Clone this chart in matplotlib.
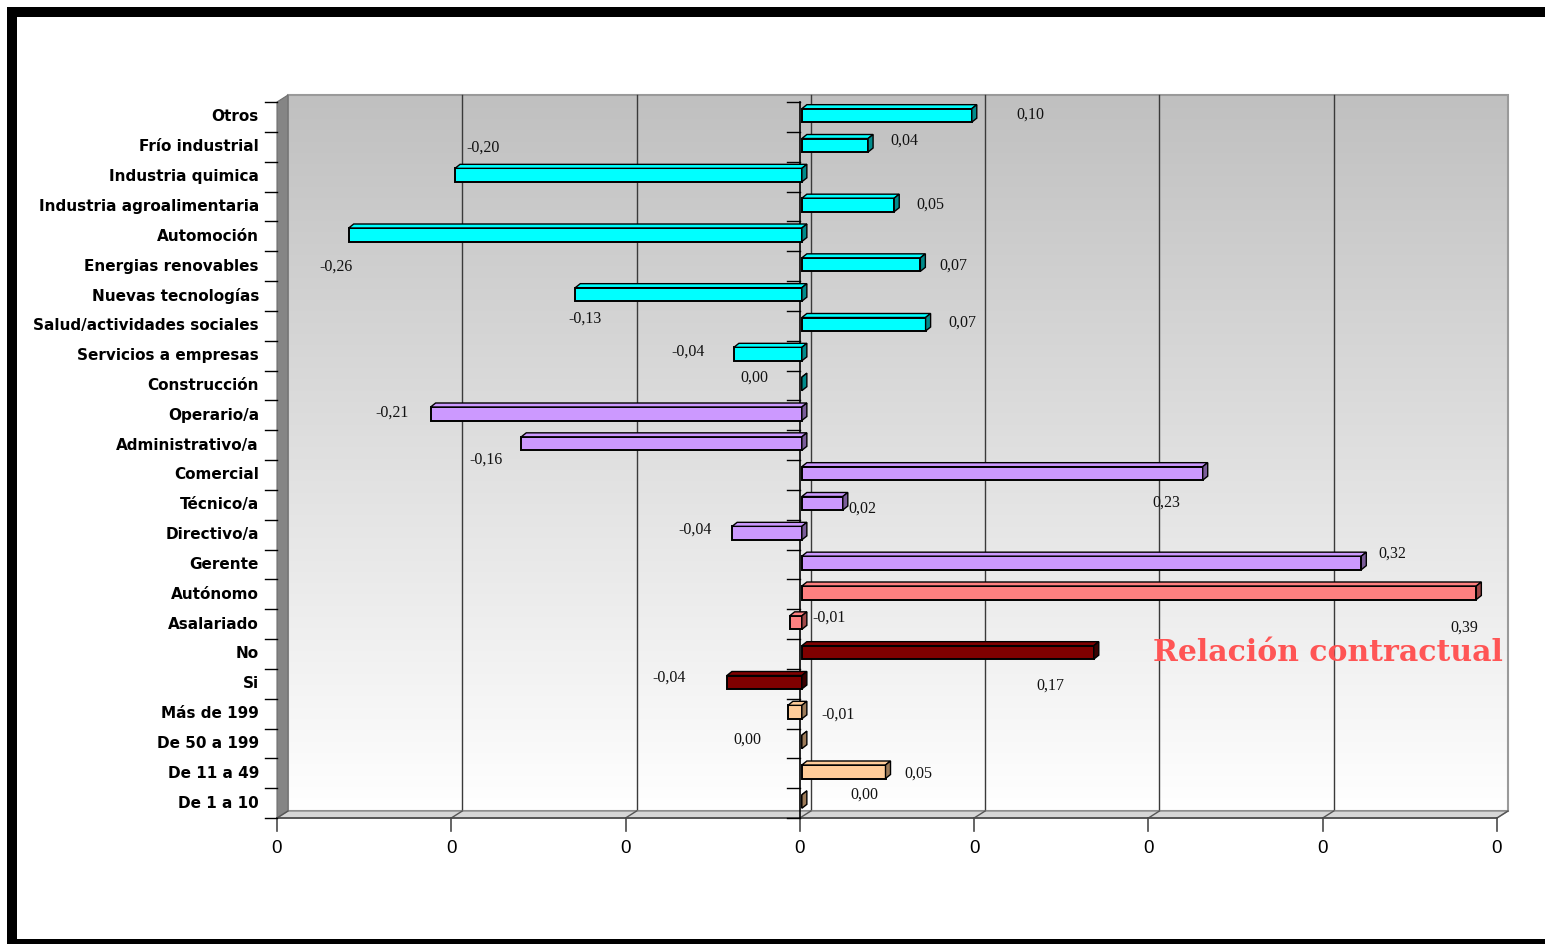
import numpy as np
import matplotlib
matplotlib.use("Agg")
import matplotlib.pyplot as plt
from matplotlib.patches import Polygon, Rectangle

# ---------------- data ----------------
categories = ["Otros", "Frío industrial", "Industria quimica", "Industria agroalimentaria",
              "Automoción", "Energias renovables", "Nuevas tecnologías",
              "Salud/actividades sociales", "Servicios a empresas", "Construcción",
              "Operario/a", "Administrativo/a", "Comercial", "Técnico/a", "Directivo/a",
              "Gerente", "Autónomo", "Asalariado", "No", "Si",
              "Más de 199", "De 50 a 199", "De 11 a 49", "De 1 a 10"]
values = [0.0975, 0.038, -0.199, 0.053, -0.26, 0.068, -0.13, 0.071, -0.039, 0.0,
          -0.213, -0.161, 0.230, 0.0235, -0.040, 0.321,
          0.387, -0.007, 0.1675, -0.043,
          -0.008, 0.0, 0.048, 0.0]
group_sizes = [10, 6, 2, 2, 4]
x_ticks = [-0.3, -0.2, -0.1, 0.0, 0.1, 0.2, 0.3, 0.4]
x_tick_labels = ["0"] * len(x_ticks)
title_text = "Relación contractual"

# ---------------- styles / layout ----------------
group_face = ["#00FFFF", "#CC99FF", "#FF8080", "#800000", "#FFCC99"]
group_side = ["#008B8B", "#7A5C99", "#A04848", "#3A0000", "#9C7A58"]
face_colors, side_colors = [], []
for n, fc, sc in zip(group_sizes, group_face, group_side):
    face_colors += [fc] * n
    side_colors += [sc] * n

# value-label positions (x in data units, dy in pixels relative to category centre)
label_x = [0.132, 0.060, -0.182, 0.075, -0.266, 0.088, -0.123, 0.093, -0.064, -0.026,
           -0.234, -0.180, 0.210, 0.036, -0.060, 0.340, 0.381, 0.017, 0.144, -0.075,
           0.022, -0.030, 0.068, 0.037]
label_dy = [-2, -6, -29, -1.5, 30, 0, 23, -3, -4, -8, -3, 15, 28, 4, -5, -11, 33, -6,
            32, -6, 1, -4, 0, -8]

W, H = 1545, 944
fig = plt.figure(figsize=(W / 100, H / 100), dpi=100)
fig.patch.set_facecolor("white")

# front frame of the plot in pixels
L, R, T, B = 277, 1497, 102, 818
ax = fig.add_axes([L / W, (H - B) / H, (R - L) / W, (B - T) / H])
ax.set_axis_off()
n = len(categories)
xmin, xmax = x_ticks[0], x_ticks[-1]
ylo, yhi = -0.5, n - 0.5
SX = (xmax - xmin) / (R - L)      # data per pixel (x)
SY = n / (B - T)                  # data per pixel (y, inverted axis)

dx, dy = 11 * SX, -7 * SY         # wall depth
bdx, bdy = 5 * SX, -4 * SY        # bar depth
bshx, bshy = 2 * SX, -1.5 * SY    # bar placement inside depth
bh = 13.5 * SY                    # bar thickness

# back wall gradient
grad = np.linspace(192, 255, 256)[:, None] / 255.0
grad = np.repeat(grad[:, :, None], 3, axis=2)
ax.imshow(grad, extent=(xmin + dx, xmax + dx, yhi + dy, ylo + dy), origin="upper",
          aspect="auto", zorder=0, clip_on=False, interpolation="bilinear")
ax.add_patch(Rectangle((xmin + dx, ylo + dy), xmax - xmin, yhi - ylo, fill=False,
                       edgecolor="#9A9A9A", lw=1.5, zorder=1, clip_on=False))
# gridlines on back wall
for t in x_ticks[1:-1]:
    ax.plot([t + dx, t + dx], [ylo + dy, yhi + dy], color="#3A3A3A", lw=1.0, zorder=1,
            clip_on=False)
# left wall
ax.add_patch(Polygon([(xmin, ylo), (xmin + dx, ylo + dy), (xmin + dx, yhi + dy), (xmin, yhi)],
                     closed=True, facecolor="#858585", edgecolor="#6E6E6E", lw=0.8,
                     zorder=1, clip_on=False))
# floor
ax.add_patch(Polygon([(xmin, yhi), (xmax, yhi), (xmax + dx, yhi + dy), (xmin + dx, yhi + dy)],
                     closed=True, facecolor="#D6D6D6", edgecolor="#8A8A8A", lw=1.0,
                     zorder=1, clip_on=False))
for t in x_ticks:
    ax.plot([t, t + dx], [yhi, yhi + dy], color="#555555", lw=1.0, zorder=1, clip_on=False)

# front x axis and ticks
ax.plot([xmin, xmax], [yhi, yhi], color="#4A4A4A", lw=1.2, zorder=2, clip_on=False)
for t, lab in zip(x_ticks, x_tick_labels):
    ax.plot([t, t], [yhi, yhi + 13 * SY], color="#4A4A4A", lw=1.2, zorder=2, clip_on=False)
    ax.text(t, yhi + 30 * SY, lab, ha="center", va="center", fontsize=13.5,
            family="Liberation Sans", color="black")

# category axis at zero, ticks on left edge
ax.plot([0, 0], [ylo, yhi], color="black", lw=1.2, zorder=2, clip_on=False)
for k in range(n + 1):
    yb = ylo + k
    ax.plot([-13 * SX, 0], [yb, yb], color="black", lw=1.0, zorder=2, clip_on=False)
    ax.plot([xmin - 12 * SX, xmin], [yb, yb], color="black", lw=1.0, zorder=2, clip_on=False)

# category labels
for i, c in enumerate(categories):
    ax.text(xmin - 18 * SX, i, c, ha="right", va="center", fontsize=11,
            fontweight="bold", family="DejaVu Sans", color="black")

# bars (front face through barh, depth faces from the same values)
ypos = np.arange(n) + bshy
ax.barh(ypos, values, height=bh, left=bshx, color=face_colors, edgecolor="black",
        linewidth=1.4, zorder=4)
for i, v in enumerate(values):
    x0 = min(0, v) + bshx
    x1 = max(0, v) + bshx
    yt = ypos[i] - bh / 2
    yb = ypos[i] + bh / 2
    ax.add_patch(Polygon([(x0, yt), (x1, yt), (x1 + bdx, yt + bdy), (x0 + bdx, yt + bdy)],
                         closed=True, facecolor=face_colors[i], edgecolor="black",
                         lw=1.0, zorder=4))
    ax.add_patch(Polygon([(x1, yt), (x1 + bdx, yt + bdy), (x1 + bdx, yb + bdy), (x1, yb)],
                         closed=True, facecolor=side_colors[i], edgecolor="black",
                         lw=1.0, zorder=4))

# value labels
for i, v in enumerate(values):
    s = f"{v:.2f}".replace(".", ",")
    if s == "-0,00":
        s = "0,00"
    ax.text(label_x[i], i + label_dy[i] * SY, s, ha="center", va="center", fontsize=11.5,
            family="Liberation Serif", color="#111111", zorder=6)

# annotation
ax.text(xmax + 6 * SX, 18 - 1.5 * SY, title_text, ha="right", va="center",
        fontsize=21.5, fontweight="bold", family="DejaVu Serif", color="#FF5555", zorder=6)

ax.set_xlim(xmin, xmax)
ax.set_ylim(yhi, ylo)

# outer black frame (top, left, bottom)
def frame_rect(x, y, w, h):
    fig.add_artist(Rectangle((x / W, 1 - (y + h) / H), w / W, h / H,
                             transform=fig.transFigure, facecolor="black",
                             edgecolor="none", zorder=10))

frame_rect(7, 7, W - 7, 10)
frame_rect(7, 7, 10, H - 7)
frame_rect(7, 939, W - 7, 10)

fig.savefig("out.png", dpi=100, facecolor="white")
